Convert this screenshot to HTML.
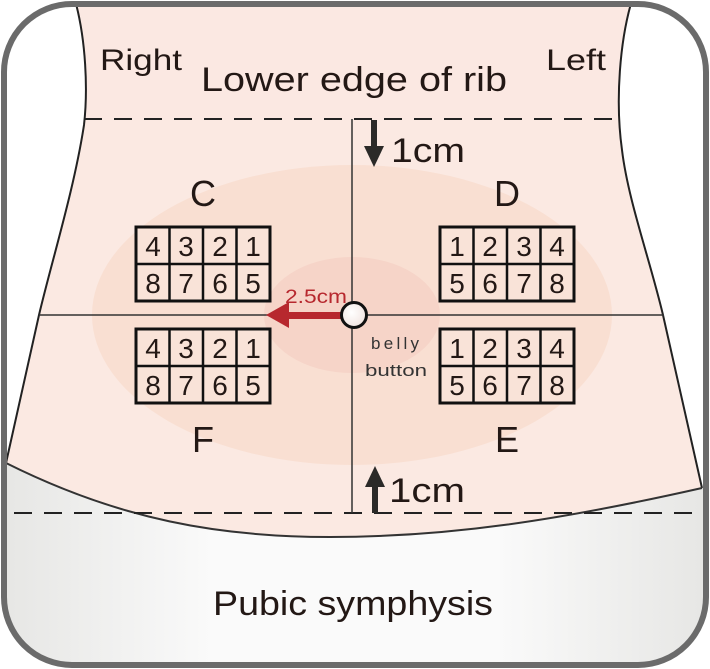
<!DOCTYPE html>
<html><head><meta charset="utf-8"><style>
html,body{margin:0;padding:0;background:#fff;}
svg{display:block;}
text{font-family:"Liberation Sans",sans-serif;}
</style></head><body>
<svg width="710" height="669" viewBox="0 0 710 669" xmlns="http://www.w3.org/2000/svg">
<defs>
<linearGradient id="g" x1="0" x2="1" y1="0" y2="0">
<stop offset="0" stop-color="#e6e6e4"/><stop offset="0.3" stop-color="#fafafa"/><stop offset="0.7" stop-color="#fafafa"/><stop offset="1" stop-color="#e6e6e4"/>
</linearGradient>
<radialGradient id="bb" cx="0.4" cy="0.4" r="0.6"><stop offset="0" stop-color="#fff"/><stop offset="1" stop-color="#f2e6e2"/></radialGradient>
<clipPath id="fr"><rect x="5" y="5" width="700" height="659" rx="68"/></clipPath>
<clipPath id="bd"><path d="M75,0 C86,40 88,90 84,125 C74,190 52,260 39,315 L6,463 C120,520 220,537 330,537 C450,537 560,520 702,488 L663,315 C650,260 628,200 622,150 C615,100 620,40 632,0 Z"/></clipPath>
</defs>
<g clip-path="url(#fr)">
<rect x="0" y="0" width="710" height="669" fill="url(#g)"/>
<path d="M0,0 L710,0 L710,488 L702,488 C560,520 450,537 330,537 C220,537 120,520 6,463 L0,463 Z" fill="#fff"/>
<path d="M75,0 C86,40 88,90 84,125 C74,190 52,260 39,315 L6,463 C120,520 220,537 330,537 C450,537 560,520 702,488 L663,315 C650,260 628,200 622,150 C615,100 620,40 632,0 Z" fill="#fbe9e2"/>
<g clip-path="url(#bd)">
<rect x="0" y="0" width="710" height="119" fill="#fbe8e2"/>
<ellipse cx="352" cy="315" rx="260" ry="150" fill="#f9dfd2"/>
<ellipse cx="352" cy="315" rx="88" ry="58" fill="#f6d4c8"/>
</g>
<path d="M75,0 C86,40 88,90 84,125 C74,190 52,260 39,315 L6,463" fill="none" stroke="#222" stroke-width="2"/>
<path d="M632,0 C620,40 615,100 622,150 C628,200 650,260 663,315 L702,488" fill="none" stroke="#222" stroke-width="2"/>
<path d="M6,463 C120,520 220,537 330,537 C450,537 560,520 702,488" fill="none" stroke="#333" stroke-width="2"/>
</g>
<line x1="84" y1="119" x2="622" y2="119" stroke="#222" stroke-width="2" stroke-dasharray="18,12"/>
<line x1="14" y1="513" x2="700" y2="513" stroke="#222" stroke-width="2" stroke-dasharray="18,12"/>
<line x1="39" y1="315" x2="664" y2="315" stroke="#333" stroke-width="1.5"/>
<line x1="352" y1="119" x2="352" y2="513" stroke="#333" stroke-width="1.5"/>
<rect x="371" y="120" width="6" height="30" fill="#2b2a28"/>
<polygon points="364,146 384,146 374,167" fill="#2b2a28"/>
<rect x="372" y="485" width="6" height="28" fill="#2b2a28"/>
<polygon points="365,487 385,487 375,466" fill="#2b2a28"/>
<text x="391" y="162" font-size="34" fill="#231815" textLength="74" lengthAdjust="spacingAndGlyphs">1cm</text>
<text x="389" y="502" font-size="34" fill="#231815" textLength="76" lengthAdjust="spacingAndGlyphs">1cm</text>
<rect x="285" y="312" width="60" height="7" fill="#b7282e"/>
<polygon points="266,315 289,302 289,328" fill="#b7282e"/>
<text x="285" y="303" font-size="19" fill="#b7282e" textLength="62" lengthAdjust="spacingAndGlyphs">2.5cm</text>
<text x="371" y="349" font-size="17" fill="#333" textLength="48" lengthAdjust="spacing">belly</text>
<text x="365" y="376" font-size="17" fill="#333" textLength="62" lengthAdjust="spacingAndGlyphs">button</text>
<circle cx="354" cy="315" r="12.5" fill="url(#bb)" stroke="#111" stroke-width="3"/>
<text x="100" y="70" font-size="30" fill="#231815" textLength="82" lengthAdjust="spacingAndGlyphs">Right</text>
<text x="546" y="70" font-size="30" fill="#231815" textLength="60" lengthAdjust="spacingAndGlyphs">Left</text>
<text x="201" y="91" font-size="34" fill="#231815" textLength="306" lengthAdjust="spacingAndGlyphs">Lower edge of rib</text>
<text x="213" y="615" font-size="34" fill="#231815" textLength="280" lengthAdjust="spacingAndGlyphs">Pubic symphysis</text>
<g font-size="36" fill="#231815" text-anchor="middle">
<text x="203" y="206">C</text>
<text x="507" y="206">D</text>
<text x="203" y="452">F</text>
<text x="507" y="452">E</text>
</g>
<g stroke="#111" stroke-width="3" fill="#f9e3d8">
<rect x="136" y="227" width="134" height="74"/>
<rect x="136" y="329" width="134" height="74"/>
<rect x="440" y="227" width="134" height="74"/>
<rect x="440" y="329" width="134" height="74"/>
</g>
<g stroke="#111" stroke-width="2.5">
<path d="M169.5,227V301M203,227V301M236.5,227V301M136,264H270"/>
<path d="M169.5,329V403M203,329V403M236.5,329V403M136,366H270"/>
<path d="M473.5,227V301M507,227V301M540.5,227V301M440,264H574"/>
<path d="M473.5,329V403M507,329V403M540.5,329V403M440,366H574"/>
</g>
<g font-size="28" fill="#231815" text-anchor="middle">
<text x="153" y="256">4</text><text x="186" y="256">3</text><text x="220" y="256">2</text><text x="253" y="256">1</text>
<text x="153" y="293">8</text><text x="186" y="293">7</text><text x="220" y="293">6</text><text x="253" y="293">5</text>
<text x="153" y="358">4</text><text x="186" y="358">3</text><text x="220" y="358">2</text><text x="253" y="358">1</text>
<text x="153" y="395">8</text><text x="186" y="395">7</text><text x="220" y="395">6</text><text x="253" y="395">5</text>
<text x="457" y="256">1</text><text x="490" y="256">2</text><text x="524" y="256">3</text><text x="557" y="256">4</text>
<text x="457" y="293">5</text><text x="490" y="293">6</text><text x="524" y="293">7</text><text x="557" y="293">8</text>
<text x="457" y="358">1</text><text x="490" y="358">2</text><text x="524" y="358">3</text><text x="557" y="358">4</text>
<text x="457" y="395">5</text><text x="490" y="395">6</text><text x="524" y="395">7</text><text x="557" y="395">8</text>
</g>
<rect x="4" y="4" width="702" height="661" rx="68" fill="none" stroke="#6b6b6b" stroke-width="6"/>
</svg>
</body></html>
